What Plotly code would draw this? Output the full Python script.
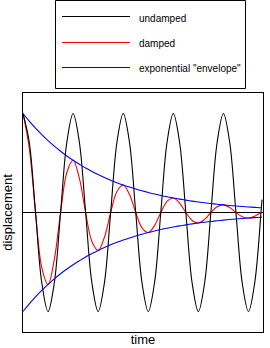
import plotly.graph_objects as go

# time in oscillation periods
time = [0, 0.125, 0.25, 0.375, 0.5, 0.625, 0.75, 0.875,
        1, 1.125, 1.25, 1.375, 1.5, 1.625, 1.75, 1.875,
        2, 2.125, 2.25, 2.375, 2.5, 2.625, 2.75, 2.875,
        3, 3.125, 3.25, 3.375, 3.5, 3.625, 3.75, 3.875,
        4, 4.125, 4.25, 4.375, 4.5, 4.625, 4.75, 4.77]

undamped = [1, 0.71, 0, -0.71, -1, -0.71, 0, 0.71,
            1, 0.71, 0, -0.71, -1, -0.71, 0, 0.71,
            1, 0.71, 0, -0.71, -1, -0.71, 0, 0.71,
            1, 0.71, 0, -0.71, -1, -0.71, 0, 0.71,
            1, 0.71, 0, -0.71, -1, -0.71, 0, 0.13]

damped = [1.0, 0.653, 0, -0.556, -0.726, -0.474, 0, 0.404,
          0.527, 0.344, 0, -0.293, -0.383, -0.250, 0, 0.213,
          0.278, 0.182, 0, -0.155, -0.202, -0.132, 0, 0.112,
          0.147, 0.095, 0, -0.081, -0.106, -0.069, 0, 0.059,
          0.077, 0.050, 0, -0.043, -0.056, -0.037, 0, 0.006]

envelope_upper = [1.0, 0.923, 0.852, 0.787, 0.726, 0.670, 0.619, 0.571,
                  0.527, 0.487, 0.449, 0.415, 0.383, 0.353, 0.326, 0.301,
                  0.278, 0.257, 0.237, 0.219, 0.202, 0.186, 0.172, 0.159,
                  0.147, 0.135, 0.125, 0.115, 0.106, 0.098, 0.091, 0.084,
                  0.077, 0.071, 0.066, 0.061, 0.056, 0.052, 0.048, 0.047]

envelope_lower = [-1.0, -0.923, -0.852, -0.787, -0.726, -0.670, -0.619, -0.571,
                  -0.527, -0.487, -0.449, -0.415, -0.383, -0.353, -0.326, -0.301,
                  -0.278, -0.257, -0.237, -0.219, -0.202, -0.186, -0.172, -0.159,
                  -0.147, -0.135, -0.125, -0.115, -0.106, -0.098, -0.091, -0.084,
                  -0.077, -0.071, -0.066, -0.061, -0.056, -0.052, -0.048, -0.047]

legend_labels = ["undamped", "damped", 'exponential "envelope"']
colors = ["#000000", "#ff0000", "#0000ff"]

W, H = 270, 348
L, R, T, B = 23, 7, 93, 16
pw, ph = W - L - R, H - T - B

def px(x):
    return (x - L) / pw

def py(y):
    return (H - B - y) / ph

fig = go.Figure()
line_kw = dict(shape="spline", smoothing=1.0, width=1.1)
fig.add_trace(go.Scatter(x=time, y=damped, mode="lines", name=legend_labels[1],
                         line=dict(color=colors[1], **line_kw)))
fig.add_trace(go.Scatter(x=time, y=undamped, mode="lines", name=legend_labels[0],
                         line=dict(color=colors[0], **line_kw)))
fig.add_trace(go.Scatter(x=time, y=envelope_upper, mode="lines", name=legend_labels[2],
                         line=dict(color=colors[2], **line_kw)))
fig.add_trace(go.Scatter(x=time, y=envelope_lower, mode="lines", name=legend_labels[2],
                         showlegend=False, line=dict(color=colors[2], **line_kw)))

title_font = dict(family="Liberation Sans, Arial, sans-serif", size=13, color="#000000")
legend_font = dict(family="Liberation Sans Narrow, Arial Narrow, Liberation Sans, Arial, sans-serif",
                   size=10, color="#000000")

shapes = [dict(type="rect", xref="paper", yref="paper",
               x0=px(55.5), x1=px(245.5), y0=py(88.5), y1=py(0.5),
               line=dict(color="#000000", width=1), fillcolor="rgba(0,0,0,0)")]
annotations = []
row_y = [16.5, 42.5, 67.5]
for lab, col, yy in zip(legend_labels, colors, row_y):
    shapes.append(dict(type="line", xref="paper", yref="paper",
                       x0=px(62), x1=px(130), y0=py(yy), y1=py(yy),
                       line=dict(color=col, width=1.2)))
    annotations.append(dict(text=lab, xref="paper", yref="paper",
                            x=px(137), y=py(yy + 1.5), xanchor="left", yanchor="middle",
                            showarrow=False, font=legend_font))

fig.update_layout(
    width=W, height=H,
    margin=dict(l=L, r=R, t=T, b=B, autoexpand=False),
    paper_bgcolor="white", plot_bgcolor="white",
    showlegend=False,
    shapes=shapes, annotations=annotations,
    xaxis=dict(range=[0, 4.79], showline=True, mirror=True, linecolor="#000000",
               linewidth=1, showgrid=False, zeroline=False, ticks="",
               showticklabels=False, title=dict(text="time", font=title_font, standoff=2)),
    yaxis=dict(range=[-1.207, 1.207], showline=True, mirror=True, linecolor="#000000",
               linewidth=1, showgrid=False, zeroline=True, zerolinecolor="#000000",
               zerolinewidth=1, ticks="", showticklabels=False,
               title=dict(text="displacement", font=title_font, standoff=6)),
)

fig.write_html("out.html")
